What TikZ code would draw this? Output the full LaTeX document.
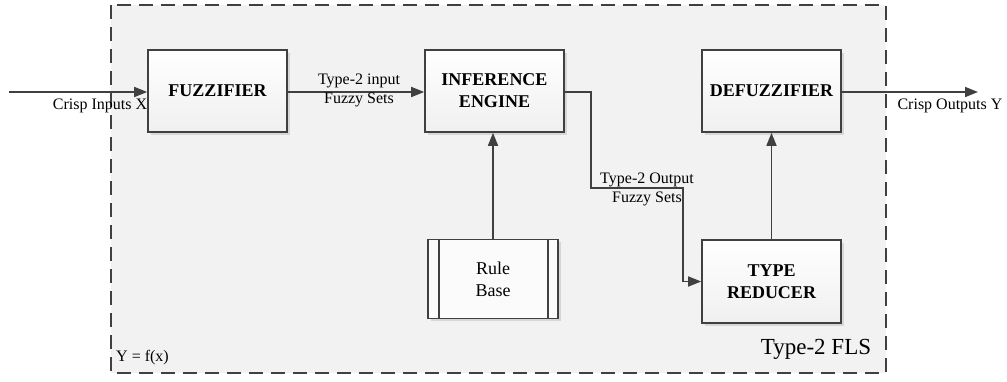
\documentclass[tikz,border=0pt]{standalone}
\usepackage{fontspec}
\setmainfont{Liberation Serif}
\usetikzlibrary{arrows.meta,shadows}
\definecolor{ink}{HTML}{404040}
\definecolor{panel}{HTML}{F2F2F2}
\tikzset{
  block/.style={draw=ink, line width=1.6pt, top color=white, bottom color=gray!12,
    minimum width=139pt, minimum height=82pt, align=center,
    font=\fontsize{18}{22}\selectfont\bfseries,
    drop shadow={shadow xshift=2.5pt, shadow yshift=-2.5pt, fill=gray!45, opacity=0.6}},
  store/.style={draw=ink, line width=1.6pt, fill=white!97!gray,
    minimum width=130pt, minimum height=79pt, align=center,
    font=\fontsize{18}{22}\selectfont,
    drop shadow={shadow xshift=2.5pt, shadow yshift=-2.5pt, fill=gray!45, opacity=0.6}},
  conn/.style={draw=ink, line width=1.6pt, -{Triangle[length=13pt,width=10pt]}},
  plain/.style={draw=ink, line width=1.6pt},
  lbl/.style={font=\fontsize{16}{19}\selectfont, align=center, inner sep=0pt},
}
\begin{document}
\begin{tikzpicture}[x=1pt, y=-1pt]
\useasboundingbox (0,0) rectangle (1007,381);
% system boundary
\draw[ink, line width=1.8pt, dash pattern=on 14pt off 8pt, fill=panel] (111,5) rectangle (886,373);

% processing blocks
\node[block] (fz) at (217.5,91) {FUZZIFIER};
\node[block] (ie) at (494.5,91) {INFERENCE\\ENGINE};
\node[block] (df) at (771.5,91) {DEFUZZIFIER};
\node[block, minimum height=83pt] (tr) at (771.5,281.5) {TYPE\\REDUCER};
\node[store] (rb) at (493,279) {Rule\\Base};
\draw[plain] ([xshift=12pt]rb.north west) -- ([xshift=12pt]rb.south west);
\draw[plain] ([xshift=-11pt]rb.north east) -- ([xshift=-11pt]rb.south east);

% free ends and bends
\coordinate (in) at (9,92);
\coordinate (out) at (978,92);
\coordinate (bend) at (683,188);

% connectors
\draw[conn] (in) -- (fz.west |- in);
\draw[conn] (fz.east |- in) -- (ie.west |- in);
\draw[conn] (ie.east |- in) -- ++(26,0) |- (bend) |- (tr.west);
\draw[conn] (rb.north) -- (rb.north |- ie.south);
\draw[conn] (tr.north) -- (df.south);
\draw[conn] (df.east |- out) -- (out);

% labels
\node[lbl] (lin) at (100,106) {Crisp Inputs X};
\node[lbl] (lmid) at (359,90) {Type-2 input\\Fuzzy Sets};
\node[lbl] (lout2) at (647,189) {Type-2 Output\\Fuzzy Sets};
\node[lbl] (lout) at (950,106) {Crisp Outputs Y};
\node[lbl, anchor=west] (fx) at (116,358) {Y = f(x)};
\node[font=\fontsize{23}{26}\selectfont, inner sep=0pt] (fls) at (816,349) {Type-2 FLS};
\end{tikzpicture}
\end{document}
